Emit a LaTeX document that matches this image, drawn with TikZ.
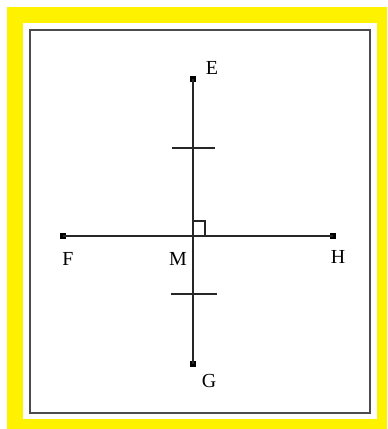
\documentclass[tikz,border=0pt]{standalone}
\usepackage{fontspec}
\setmainfont{Liberation Serif}
\usetikzlibrary{positioning}

\begin{document}
\begin{tikzpicture}[
    x=0.03cm, y=-0.03cm,
    seg/.style={line width=1.5pt, draw=black!85},
    frame/.style={line width=1.6pt, draw=black!70},
    dot/.style={rectangle, fill=black, inner sep=0pt, minimum size=0.17cm},
    lbl/.style={inner sep=0pt, font=\fontsize{17}{17}\selectfont}
]
    \useasboundingbox (0,0) rectangle (387,429);
    \fill[yellow] (7,7) rectangle (387,429);
    \fill[white] (23,23) rectangle (377,419);
    \draw[frame] (30,30) rectangle (370,413);

    \coordinate (M) at (193,236);
    \node[dot] (E) at (193,79) {};
    \node[dot] (G) at (193,364) {};
    \node[dot] (F) at (63,236) {};
    \node[dot] (H) at (333,236) {};

    \draw[seg] (E.center) -- (G.center);
    \draw[seg] (F.center) -- (H.center);
    \draw[seg] (172,148) -- (215,148);
    \draw[seg] (171,294) -- (217,294);
    \draw[seg, line width=1.1pt] (M) rectangle ++(12,-15);

    \node[lbl] (lE) at (212,68) {E};
    \node[lbl] (lF) at (68,259) {F};
    \node[lbl] (lM) at (178,259) {M};
    \node[lbl] (lH) at (338,257) {H};
    \node[lbl] (lG) at (209,381) {G};
\end{tikzpicture}
\end{document}
